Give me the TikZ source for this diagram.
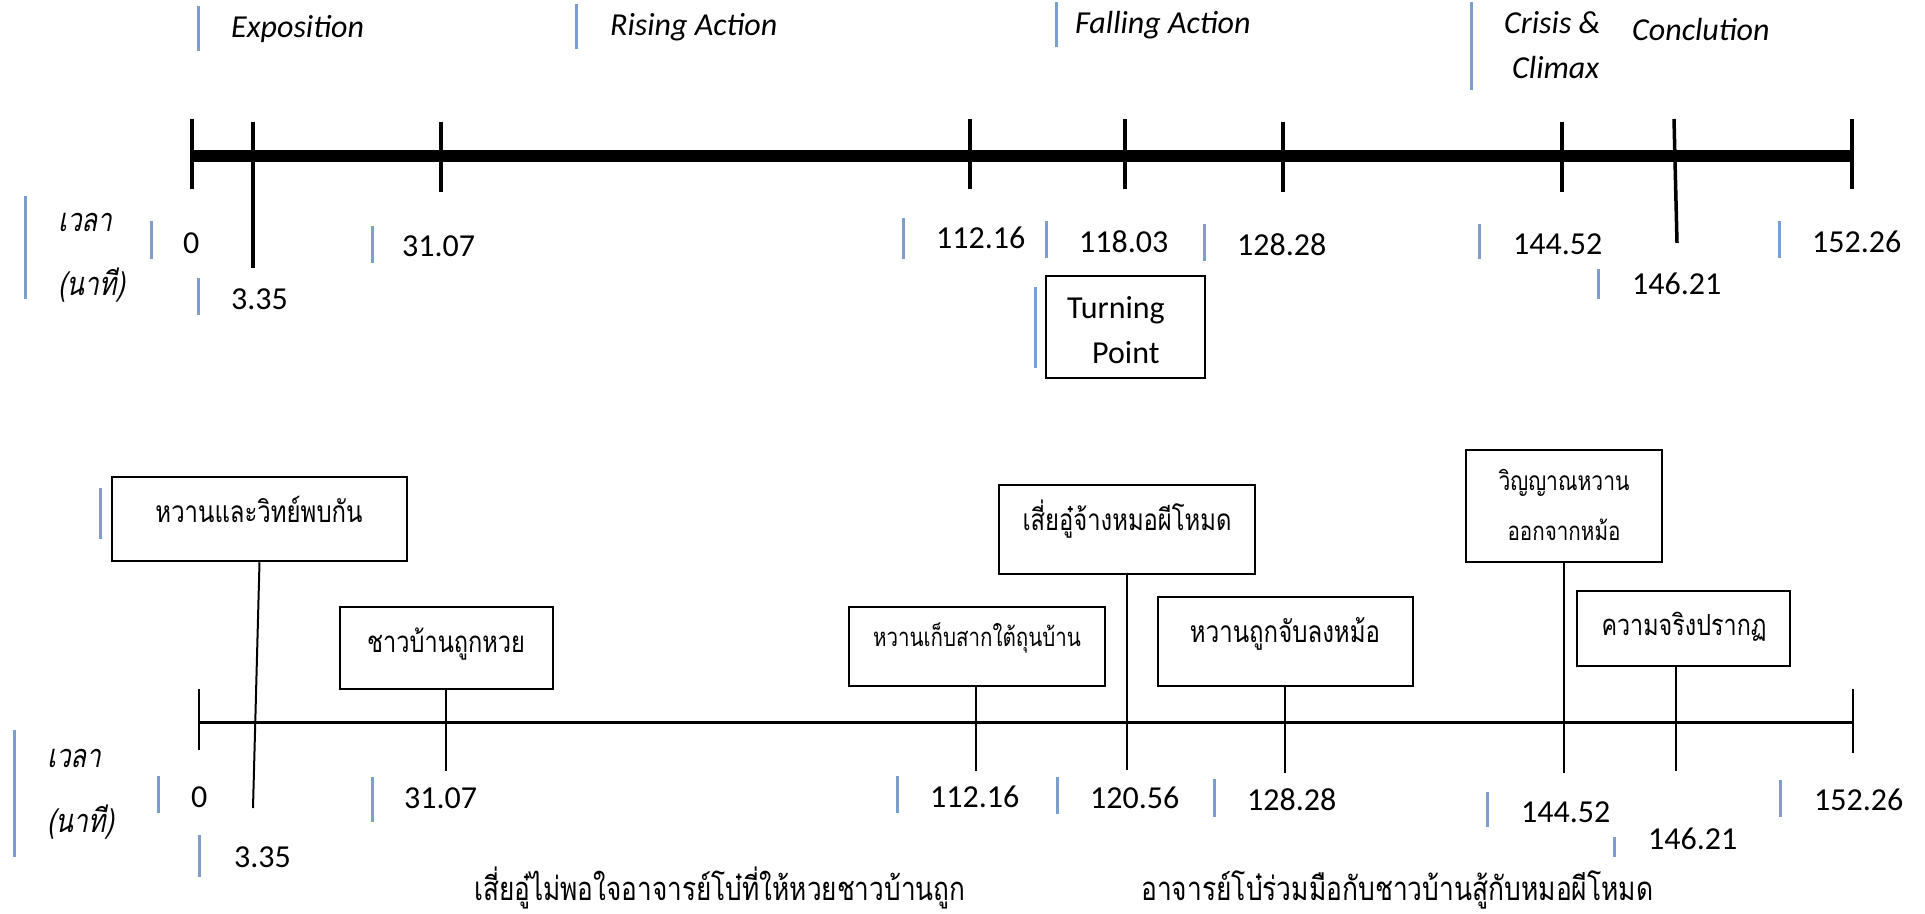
\documentclass[tikz,border=0pt]{standalone}
\usepackage{graphicx}
\usepackage{fontspec}
\setmainfont{Carlito}
\newfontfamily\thaifont[Script=Thai,FakeStretch=0.8]{Loma}
\newfontfamily\thaiitfont[Script=Thai,FakeStretch=0.8,FakeSlant=0.2]{Loma}
\definecolor{tabblue}{RGB}{122,158,206}
% Thai text set to a given width (in pt)
\newcommand\thaiw[2]{\resizebox{#1pt}{!}{\thaifont #2}}
\newcommand\thaiitw[2]{\resizebox{#1pt}{!}{\thaiitfont #2}}
\tikzset{
  tab/.style={draw=tabblue, line width=3pt},
  lbl/.style={anchor=base west, inner sep=0pt, font=\fontsize{32}{38}\selectfont},
  phase/.style={lbl, font=\fontsize{32}{38}\selectfont\itshape},
  thaibase/.style={anchor=base west, inner sep=0pt},
  thaimid/.style={anchor=base, inner sep=0pt},
  tick/.style={line width=3.5pt},
  event/.style={draw, line width=2.5pt, inner sep=0pt},
  link/.style={line width=2pt},
}
\begin{document}
\begin{tikzpicture}[x=1pt,y=-1pt]
\fill[white] (0,0) rectangle (1925,913);
\useasboundingbox (0,0) rectangle (1925,913);

% ---------- phase headings ----------
\draw[tab] (198,6) -- (198,51);
\node[phase] (expo) at (231,37) {Exposition};
\draw[tab] (576,4) -- (576,49);
\node[phase] (rise) at (610,35) {Rising Action};
\draw[tab] (1056,2) -- (1056,47);
\node[phase] (fall) at (1075,33) {Falling Action};
\draw[tab] (1471,2) -- (1471,90);
\node[phase] (crisis) at (1504,33) {Crisis \&};
\node[phase] (climax) at (1512,78) {Climax};
\node[phase] (concl) at (1632,40) {Conclution};

% ---------- upper time line ----------
\draw[line width=12pt] (192,156) -- (1852,156);
\foreach \x/\a/\b in {192/119/189, 253/122/268, 441/122/192, 970/119/189,
                      1125/119/189, 1283/122/192, 1562/122/192, 1852/119/189}
  \draw[tick] (\x,\a) -- (\x,\b);
\draw[tick] (1674,119) -- (1677,243);

% time labels of the upper line
\draw[tab] (25,196) -- (25,299);
\node[thaibase] (ua) at (58,231) {\thaiitw{54}{เวลา}};
\node[thaibase] (ub) at (58,295) {\thaiitw{67}{(นาที)}};

\draw[tab] (151,221) -- (151,259);   \node[lbl] (u0)   at (183,253) {0};
\draw[tab] (198,278) -- (198,315);   \node[lbl] (u1)   at (231,309) {3.35};
\draw[tab] (372,226) -- (372,263);   \node[lbl] (u2)   at (402,256) {31.07};
\draw[tab] (903,218) -- (903,259);   \node[lbl] (u3)   at (936,248) {112.16};
\draw[tab] (1046,221) -- (1046,258); \node[lbl] (u4)   at (1079,252) {118.03};
\draw[tab] (1204,224) -- (1204,261); \node[lbl] (u5)   at (1237,255) {128.28};
\draw[tab] (1479,224) -- (1479,259); \node[lbl] (u6)   at (1513,254) {144.52};
\draw[tab] (1598,269) -- (1598,299); \node[lbl] (u7)   at (1632,294) {146.21};
\draw[tab] (1779,221) -- (1779,258); \node[lbl] (u8)   at (1812,252) {152.26};

% turning point
\node[event, minimum width=159pt, minimum height=102pt] (turn) at (1125.5,327) {};
\draw[tab] (1035,287) -- (1035,368);
\node[lbl] (turnA) at (1067,318) {Turning};
\node[lbl] (turnB) at (1092,363) {Point};

% ---------- lower time line ----------
\draw[line width=3pt] (199,722) -- (1853,722);
\draw[link] (199,689) -- (199,750);
\draw[link] (1853,689) -- (1853,753);

% events
\draw[tab] (100,488) -- (100,539);
\node[event, minimum width=295pt, minimum height=84pt] (e1) at (259.5,519) {};
\node[thaimid] (e1t) at (259,522) {\thaiw{207}{หวานและวิทย์พบกัน}};

\node[event, minimum width=213pt, minimum height=82pt] (e2) at (446.5,648) {};
\node[thaimid] (e2t) at (446,652) {\thaiw{158}{ชาวบ้านถูกหวย}};

\node[event, minimum width=256pt, minimum height=79pt] (e3) at (977,646.5) {};
\node[thaimid] (e3t) at (977,646) {\thaiw{208}{หวานเก็บสากใต้ถุนบ้าน}};

\node[event, minimum width=256pt, minimum height=89pt] (e4) at (1127,529.5) {};
\node[thaimid] (e4t) at (1127,530) {\thaiw{209}{เสี่ยอู๋จ้างหมอผีโหมด}};

\node[event, minimum width=255pt, minimum height=89pt] (e5) at (1285.5,641.5) {};
\node[thaimid] (e5t) at (1285,642) {\thaiw{190}{หวานถูกจับลงหม้อ}};

\node[event, minimum width=196pt, minimum height=112pt] (e6) at (1564,506) {};
\node[thaimid] (e6a) at (1564,490) {\thaiw{131}{วิญญาณหวาน}};
\node[thaimid] (e6b) at (1564,540) {\thaiw{113}{ออกจากหม้อ}};

\node[event, minimum width=213pt, minimum height=75pt] (e7) at (1683.5,628.5) {};
\node[thaimid] (e7t) at (1684,635) {\thaiw{165}{ความจริงปรากฏ}};

% connectors from events down across the line
\coordinate (c1) at (253,808);
\coordinate (c2) at (446,771);
\coordinate (c3) at (976,771);
\coordinate (c4) at (1127,770);
\coordinate (c5) at (1285,773);
\coordinate (c6) at (1564,773);
\coordinate (c7) at (1676,771);
\draw[link] (e1.south) -- (c1);
\draw[link] (c2 |- e2.south) -- (c2);
\draw[link] (c3 |- e3.south) -- (c3);
\draw[link] (c4 |- e4.south) -- (c4);
\draw[link] (c5 |- e5.south) -- (c5);
\draw[link] (c6 |- e6.south) -- (c6);
\draw[link] (c7 |- e7.south) -- (c7);

% time labels of the lower line
\draw[tab] (14,730) -- (14,857);
\node[thaibase] (la) at (47,767) {\thaiitw{54}{เวลา}};
\node[thaibase] (lb) at (47,832) {\thaiitw{67}{(นาที)}};

\draw[tab] (158,776) -- (158,813);   \node[lbl] (l0) at (191,807) {0};
\draw[tab] (199,835) -- (199,877);   \node[lbl] (l1) at (234,867) {3.35};
\draw[tab] (372,777) -- (372,822);   \node[lbl] (l2) at (404,808) {31.07};
\draw[tab] (897,776) -- (897,813);   \node[lbl] (l3) at (930,807) {112.16};
\draw[tab] (1057,777) -- (1057,814); \node[lbl] (l4) at (1090,808) {120.56};
\draw[tab] (1214,779) -- (1214,817); \node[lbl] (l5) at (1247,810) {128.28};
\draw[tab] (1487,792) -- (1487,827); \node[lbl] (l6) at (1521,822) {144.52};
\draw[tab] (1614,837) -- (1614,857); \node[lbl] (l7) at (1648,849) {146.21};
\draw[tab] (1780,780) -- (1780,817); \node[lbl] (l8) at (1814,810) {152.26};

% notes under the lower line
\node[thaibase] (n1) at (474,900) {\thaiw{491}{เสี่ยอู๋ไม่พอใจอาจารย์โบ๋ที่ให้หวยชาวบ้านถูก}};
\node[thaibase] (n2) at (1141,900) {\thaiw{512}{อาจารย์โบ๋ร่วมมือกับชาวบ้านสู้กับหมอผีโหมด}};
\end{tikzpicture}
\end{document}
